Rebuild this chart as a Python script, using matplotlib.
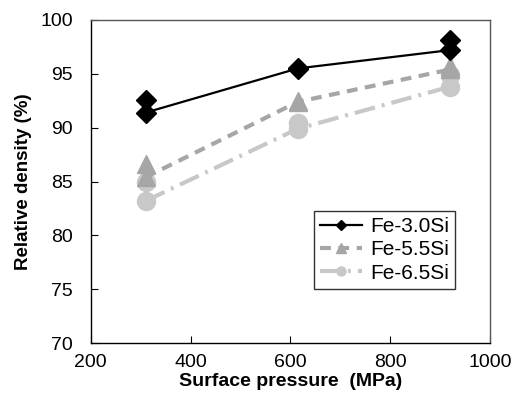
import matplotlib
matplotlib.use('Agg')
import matplotlib.pyplot as plt

pressure = [310, 615, 920]

# first measurement (connected by line) and second measurement (markers only)
fe30_a = [91.4, 95.5, 97.2]
fe30_b = [92.6, 95.4, 98.1]
fe55_a = [85.4, 92.4, 95.4]
fe55_b = [86.6, 92.5, 95.7]
fe65_a = [83.2, 89.9, 93.8]
fe65_b = [85.0, 90.4, 94.9]

labels = ['Fe-3.0Si', 'Fe-5.5Si', 'Fe-6.5Si']

plt.rcParams['font.family'] = ['Liberation Sans', 'DejaVu Sans']

fig = plt.figure(figsize=(5.13, 4.07), dpi=100)
ax = fig.add_axes([0.177, 0.157, 0.778, 0.794])

c30, c55, c65 = '#000000', '#a6a6a6', '#c8c8c8'

# extra markers (drawn first, lines on top)
ax.plot(pressure, fe65_b, 'o', color=c65, markersize=13, zorder=2)
ax.plot(pressure, fe55_b, '^', color=c55, markersize=13, zorder=2)
ax.plot(pressure, fe30_b, 'D', color=c30, markersize=10.5, zorder=3)

ax.plot(pressure, fe65_a, color=c65, linestyle=(0, (5, 1.7, 0.7, 1.7)), linewidth=3,
        marker='o', markersize=13, label=labels[2], zorder=2)
ax.plot(pressure, fe55_a, color=c55, linestyle=(0, (2.6, 1.8)), linewidth=3,
        marker='^', markersize=13, label=labels[1], zorder=2)
ax.plot(pressure, fe30_a, color=c30, linestyle='-', linewidth=1.6,
        marker='D', markersize=10.5, label=labels[0], zorder=3)

ax.set_xlim(200, 1000)
ax.set_ylim(70, 100)
ax.set_xticks(range(200, 1001, 200))
ax.set_yticks(range(70, 101, 5))
ax.tick_params(direction='in', length=5, labelsize=14)
ax.tick_params(axis='y', pad=13)
ax.tick_params(axis='x', pad=8)
for s in ax.spines.values():
    s.set_linewidth(1.0)
ax.spines['top'].set_color('#555555')
ax.spines['right'].set_color('#555555')

ax.set_xlabel('Surface pressure  (MPa)', fontsize=14, fontweight='bold', labelpad=1)
ax.set_ylabel('Relative density (%)', fontsize=13.5, fontweight='bold', labelpad=6)

handles, labs = ax.get_legend_handles_labels()
order = [2, 1, 0]
leg = ax.legend([handles[i] for i in order], [labs[i] for i in order],
                loc='upper left', bbox_to_anchor=(0.559, 0.409), borderaxespad=0,
                fontsize=15, frameon=True, fancybox=False, edgecolor='black',
                handlelength=2.0, markerscale=0.5, borderpad=0.3,
                labelspacing=0.2, handletextpad=0.4)
leg.get_frame().set_linewidth(1.0)

fig.savefig('out.png', dpi=100)
